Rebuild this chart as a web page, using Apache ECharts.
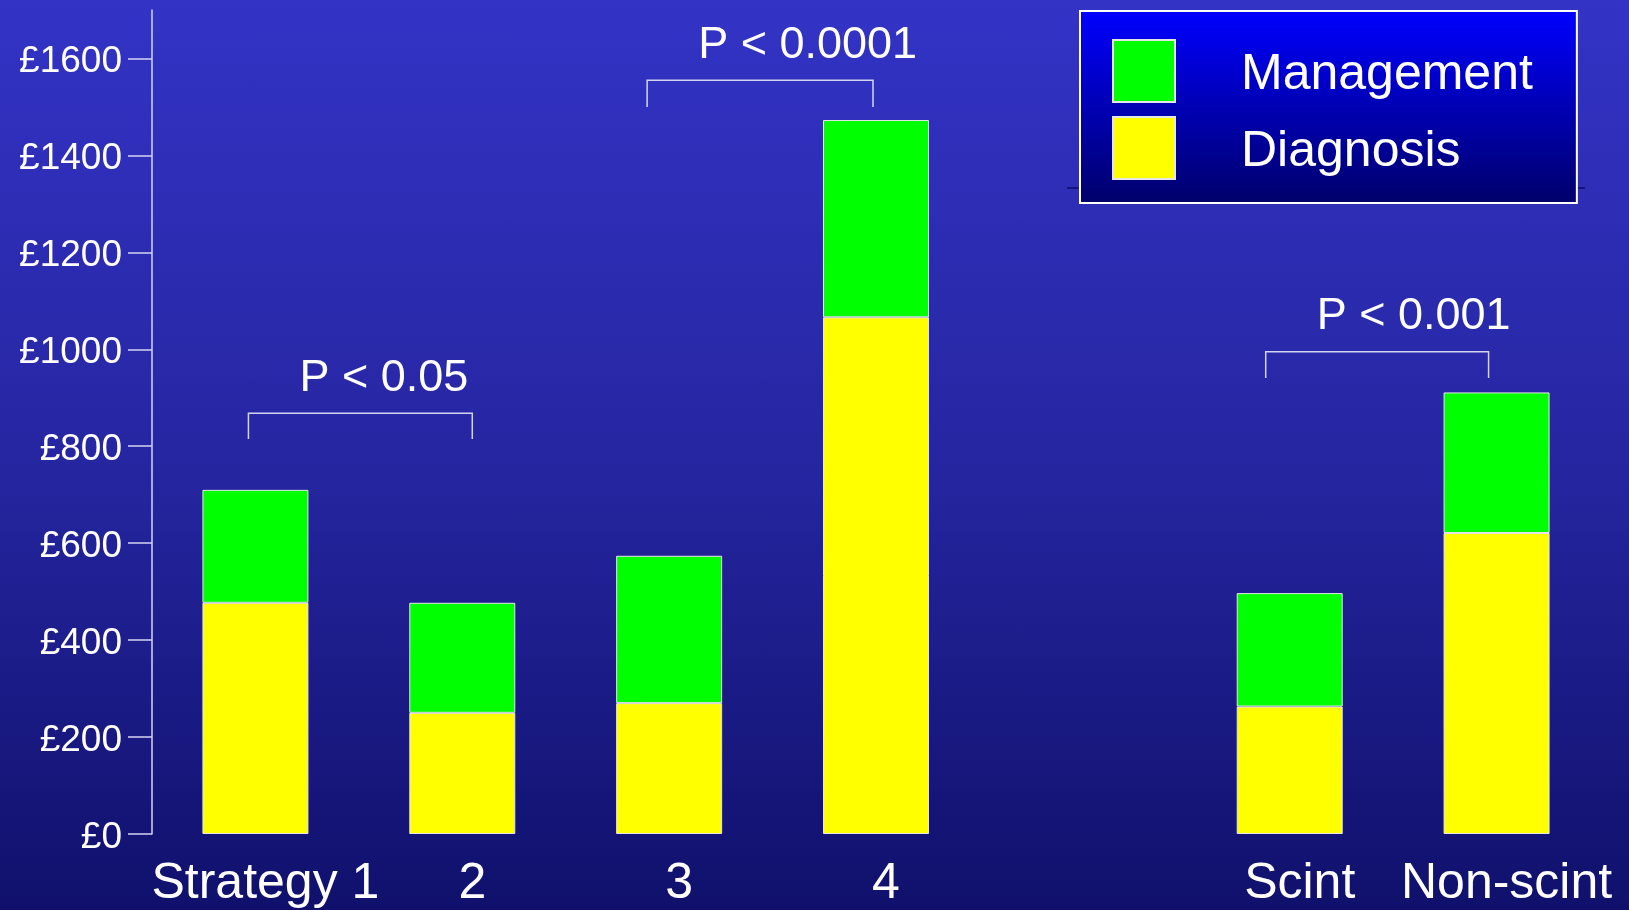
<!DOCTYPE html>
<html>
<head>
<meta charset="utf-8">
<title>Cost per patient by strategy</title>
<script src="https://cdn.jsdelivr.net/npm/echarts@6.0.0/dist/echarts.min.js"></script>
<style>
  html, body { margin: 0; padding: 0; }
  body { width: 1629px; height: 910px; overflow: hidden;
         background: linear-gradient(to bottom, #3333c6 0%, #2626a2 50%, #10106c 100%); }
  #chart { width: 1629px; height: 910px; }
</style>
</head>
<body>
<div id="chart"></div>
<script>
// Cost per patient, split into diagnosis and management (GBP)
const categories = ['Strategy 1', '2', '3', '4', '', 'Scint', 'Non-scint'];
const diagnosis  = [477, 250, 270, 1066, '-', 263, 621];
const management = [233, 227, 304, 407, '-', 234, 290];
const yTicks = [0, 200, 400, 600, 800, 1000, 1200, 1400, 1600];

// Significance brackets: label, first and last category, bracket level and leg end (GBP)
const pLabels = ['P < 0.05', 'P < 0.0001', 'P < 0.001'];
const pFrom   = [0, 2, 5];
const pTo     = [1, 3, 6];
const pTop    = [868, 1555, 995];
const pFoot   = [815, 1500, 941];

// pixel nudges of the bracket ends from the category centres
const bracketShift = [[-7, 10], [-22, -3], [-24, -8]];

const FONT = '"Liberation Sans", Arial, Helvetica, sans-serif';
const LINE = '#d4d4f2';

const bracketData = pLabels.map((_, i) => [pFrom[i], pTo[i], pTop[i], pFoot[i]]);

const shadowText = {
  color: '#ffffff',
  fontSize: 50,
  fontFamily: FONT,
  textShadowColor: '#000000',
  textShadowOffsetX: 3,
  textShadowOffsetY: 3,
  textShadowBlur: 0
};

const chart = echarts.init(document.getElementById('chart'), null, { renderer: 'canvas' });

chart.setOption({
  backgroundColor: 'transparent',
  animation: false,
  textStyle: { fontFamily: FONT },
  grid: { left: 152, right: 29, top: 10, bottom: 76 },
  legend: {
    data: ['Management', 'Diagnosis'],
    orient: 'vertical',
    left: 1080,
    top: 11,
    icon: 'rect',
    itemWidth: 62,
    itemHeight: 62,
    itemGap: 13,
    padding: [28, 44, 23, 32],
    borderColor: '#ffffff',
    borderWidth: 2,
    borderRadius: 0,
    backgroundColor: new echarts.graphic.LinearGradient(0, 0, 0, 1, [
      { offset: 0, color: '#0000ff' },
      { offset: 1, color: '#00006a' }
    ]),
    selectedMode: false,
    formatter: '{t|{name}}',
    textStyle: Object.assign({}, shadowText, {
      rich: { t: Object.assign({}, shadowText, { padding: [8, 0, 0, 61] }) }
    })
  },
  graphic: [{
    type: 'line',
    z: -1,
    shape: { x1: 1067, y1: 188, x2: 1585, y2: 188 },
    style: { stroke: '#0c0c68', lineWidth: 1.5 }
  }],
  xAxis: {
    type: 'category',
    data: categories,
    axisLine: { show: false },
    axisTick: { show: false },
    splitLine: { show: false },
    axisLabel: Object.assign({}, shadowText, {
      interval: 0,
      margin: 25,
      padding: [0, 0, 0, 20]
    })
  },
  yAxis: {
    type: 'value',
    min: 0,
    max: 1700,
    interval: 100,
    splitLine: { show: false },
    axisLine: { show: true, lineStyle: { color: LINE, width: 1.5 } },
    axisTick: { show: true, length: 24, customValues: yTicks, lineStyle: { color: LINE, width: 1.5 } },
    axisLabel: {
      customValues: yTicks,
      color: '#ffffff',
      fontSize: 37,
      fontFamily: FONT,
      margin: 30,
      verticalAlign: 'top',
      lineHeight: 7,
      formatter: v => '£' + v
    }
  },
  series: [
    {
      name: 'Diagnosis',
      type: 'bar',
      stack: 'cost',
      data: diagnosis,
      barWidth: 106,
      itemStyle: { color: '#ffff00', borderColor: '#e6e6e6', borderWidth: 1 }
    },
    {
      name: 'Management',
      type: 'bar',
      stack: 'cost',
      data: management,
      barWidth: 106,
      itemStyle: { color: '#00ff00', borderColor: '#e6e6e6', borderWidth: 1 }
    },
    {
      name: 'significance',
      type: 'custom',
      data: bracketData,
      dimensions: ['from', 'to', 'top', 'foot'],
      encode: { x: [0, 1], y: [2, 3] },
      z: 5,
      silent: true,
      renderItem: (params, api) => {
        const i = params.dataIndex;
        const a = api.coord([api.value(0), api.value(2)]);
        const b = api.coord([api.value(1), api.value(2)]);
        const f = api.coord([api.value(0), api.value(3)]);
        const x1 = a[0] + bracketShift[i][0];
        const x2 = b[0] + bracketShift[i][1];
        const yT = a[1];
        const yF = f[1];
        return {
          type: 'group',
          children: [
            {
              type: 'polyline',
              shape: { points: [[x1, yF], [x1, yT], [x2, yT], [x2, yF]] },
              style: { stroke: LINE, lineWidth: 1.5, fill: null }
            },
            {
              type: 'text',
              style: {
                text: pLabels[i],
                x: x1 + 51,
                y: yT - 35,
                fill: '#ffffff',
                font: '45px ' + FONT,
                align: 'left',
                verticalAlign: 'middle'
              }
            }
          ]
        };
      }
    }
  ]
});
</script>
</body>
</html>
